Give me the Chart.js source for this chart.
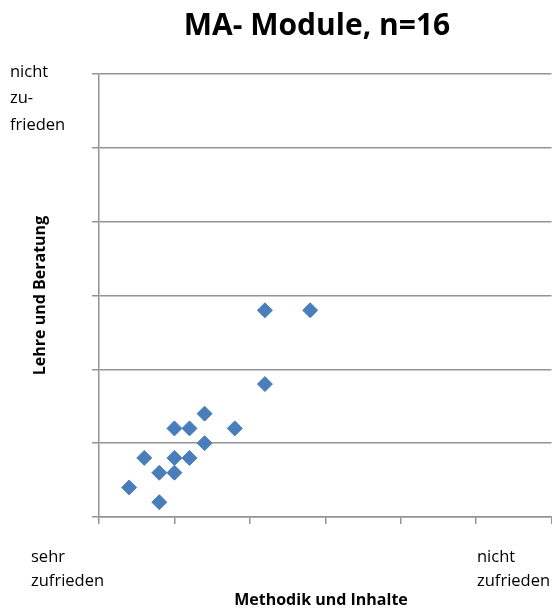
<!DOCTYPE html>
<html>
<head>
<meta charset="utf-8">
<script src="https://cdn.jsdelivr.net/npm/chart.js@4/dist/chart.umd.min.js"></script>
<style>
  html, body { margin: 0; padding: 0; background: #fff; overflow: hidden; }
  #wrap { width: 552px; height: 608px; overflow: hidden; }
</style>
</head>
<body>
<div id="wrap"><canvas id="c" width="560" height="608"></canvas></div>
<script>
// scale 1 = sehr zufrieden, 7 = nicht zufrieden
const methodik = [3.2, 3.8, 3.2, 2.4, 2.0, 2.2, 2.8, 2.4, 1.6, 2.0, 2.2, 1.8, 2.0, 1.4, 1.8];
const lehre    = [3.8, 3.8, 2.8, 2.4, 2.2, 2.2, 2.2, 2.0, 1.8, 1.8, 1.8, 1.6, 1.6, 1.4, 1.2];
const titleText = 'MA- Module, n=16';
const xTitle = 'Methodik und Inhalte';
const yTitle = 'Lehre und Beratung';
const yTopLabel = ['nicht', 'zu-', 'frieden'];
const xLeftLabel = ['sehr', 'zufrieden'];
const xRightLabel = ['nicht', 'zufrieden'];

const points = methodik.map((x, i) => ({ x: x, y: lehre[i] }));

const gridGrey = '#939393';

// texts around the plot
const labelsPlugin = {
  id: 'labels',
  afterDraw(chart) {
    const ctx = chart.ctx;
    const a = chart.chartArea;
    ctx.save();
    ctx.fillStyle = '#000';
    ctx.textBaseline = 'middle';

    ctx.font = 'bold 30px "Open Sans", sans-serif';
    ctx.textAlign = 'center';
    ctx.fillText(titleText, 317, 26);

    ctx.font = '16.5px "Open Sans", sans-serif';
    ctx.textAlign = 'left';
    yTopLabel.forEach((t, i) => ctx.fillText(t, 10, 72 + i * 26.5));
    xLeftLabel.forEach((t, i) => ctx.fillText(t, 31, 557 + i * 24));
    xRightLabel.forEach((t, i) => ctx.fillText(t, 477, 557 + i * 24));

    ctx.font = 'bold 16px "Open Sans", sans-serif';
    ctx.textAlign = 'center';
    ctx.fillText(xTitle, 321, 600);

    ctx.translate(40, (a.top + a.bottom) / 2);
    ctx.rotate(-Math.PI / 2);
    ctx.fillText(yTitle, 0, 0);
    ctx.restore();
  }
};

new Chart(document.getElementById('c'), {
  type: 'scatter',
  data: {
    datasets: [{
      data: points,
      pointStyle: 'rectRot',
      pointRadius: 7.5,
      pointHoverRadius: 7.5,
      backgroundColor: '#4A7EBB',
      borderColor: '#4A7EBB',
      borderWidth: 1
    }]
  },
  plugins: [labelsPlugin],
  options: {
    responsive: false,
    animation: false,
    layout: { padding: { left: 92, top: 74, right: 6, bottom: 84 } },
    plugins: {
      legend: { display: false },
      title: { display: false },
      tooltip: { enabled: false }
    },
    scales: {
      x: {
        type: 'linear',
        min: 1,
        max: 7,
        ticks: { display: false, stepSize: 1 },
        grid: { drawOnChartArea: false, drawTicks: true, tickLength: 7, color: gridGrey, lineWidth: 1.5 },
        border: { color: gridGrey, width: 1.5 }
      },
      y: {
        type: 'linear',
        min: 1,
        max: 7,
        ticks: { display: false, stepSize: 1 },
        grid: { drawTicks: true, tickLength: 7, color: gridGrey, lineWidth: 1.5 },
        border: { color: gridGrey, width: 1.5 }
      }
    }
  }
});
</script>
</body>
</html>
